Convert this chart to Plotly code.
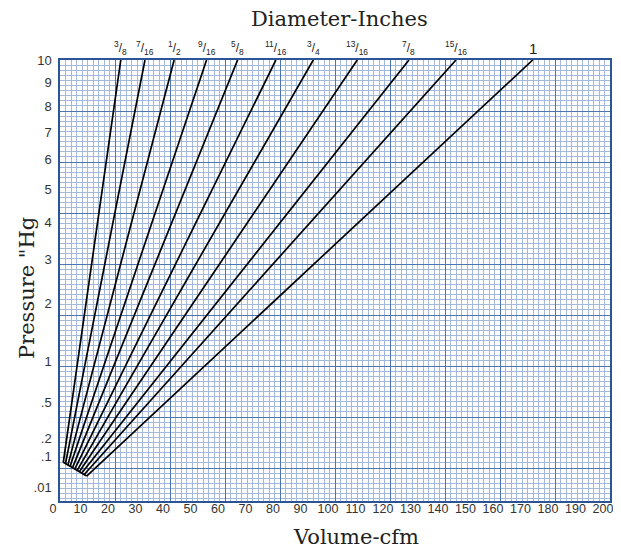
import numpy as np
import plotly.graph_objects as go

# ---- data ----
diameters = ["3/8", "7/16", "1/2", "9/16", "5/8", "11/16", "3/4", "13/16", "7/8", "15/16", "1"]
diameter_labels = ["<sup>3</sup>/<sub>8</sub>", "<sup>7</sup>/<sub>16</sub>", "<sup>1</sup>/<sub>2</sub>",
                   "<sup>9</sup>/<sub>16</sub>", "<sup>5</sup>/<sub>8</sub>", "<sup>11</sup>/<sub>16</sub>",
                   "<sup>3</sup>/<sub>4</sub>", "<sup>13</sup>/<sub>16</sub>", "<sup>7</sup>/<sub>8</sub>",
                   "<sup>15</sup>/<sub>16</sub>", "1"]
start_cfm = [1.2, 2.0, 2.9, 3.7, 4.6, 5.4, 6.3, 7.1, 8.0, 8.8, 9.7]
start_hg = [0.077, 0.072, 0.067, 0.063, 0.058, 0.053, 0.049, 0.045, 0.041, 0.036, 0.032]
end_cfm = [22.1, 30.9, 41.5, 53.3, 64.6, 78.5, 92.1, 108.1, 126.9, 144.0, 171.9]
end_hg = [10] * 11

x_ticks = list(range(0, 201, 10))
y_tick_values = [0.01, 0.1, 0.2, 0.5, 1, 2, 3, 4, 5, 6, 7, 8, 9, 10]
y_tick_text = [".01", ".1", ".2", ".5", "1", "2", "3", "4", "5", "6", "7", "8", "9", "10"]

X_MAX = 200
Y_MAX = 10

# square-root pressure scale
def s(v):
    return np.sqrt(np.asarray(v, dtype=float))

fig = go.Figure()

# dummy trace for the grid axes
fig.add_trace(go.Scatter(x=[0, X_MAX], y=[0, s(Y_MAX)], xaxis="x2", yaxis="y2",
                         mode="markers", marker=dict(opacity=0), showlegend=False,
                         hoverinfo="skip"))

for i, d in enumerate(diameters):
    fig.add_trace(go.Scatter(x=[start_cfm[i], end_cfm[i]], y=s([start_hg[i], end_hg[i]]),
                             mode="lines", line=dict(color="black", width=1.7),
                             name=d, showlegend=False))

# base line joining the start points
fig.add_trace(go.Scatter(x=start_cfm, y=s(start_hg), mode="lines",
                         line=dict(color="black", width=1.7), showlegend=False))

for i, d in enumerate(diameters):
    big = (d == "1")
    fig.add_annotation(x=end_cfm[i], y=float(s(end_hg[i])), xref="x", yref="y",
                       text=diameter_labels[i], showarrow=False, yanchor="bottom",
                       xanchor="center", yshift=1,
                       font=dict(family="Liberation Sans, Arial", size=15 if big else 12,
                                 color="#222"))

frame = "#2a5597"
sqrt_top = float(s(Y_MAX))
major_y = sqrt_top * 51.0 / 441.0  # graph-paper major spacing (pixels ratio)
tickfont = dict(family="Liberation Sans, Arial", size=12.5, color="#333")
fig.update_layout(
    template="none",
    width=613, height=542,
    margin=dict(l=52, r=11, t=52, b=49, autoexpand=False),
    paper_bgcolor="white", plot_bgcolor="white",
    showlegend=False,
    xaxis=dict(range=[0, X_MAX], tickmode="array", tickvals=x_ticks,
               ticktext=[str(t) for t in x_ticks], showgrid=False, zeroline=False,
               showline=True, mirror=True, linecolor=frame, linewidth=1.5,
               ticks="", ticklen=0, automargin=False, tickfont=tickfont,
               ticklabelstandoff=-5, ticklabelshift=-7),
    yaxis=dict(range=[0, sqrt_top], tickmode="array", tickvals=list(s(y_tick_values)),
               ticktext=y_tick_text, showgrid=False, zeroline=False,
               showline=True, mirror=True, linecolor=frame, linewidth=1.5,
               ticks="", ticklen=0, automargin=False,
               tickfont=dict(family="Liberation Sans, Arial", size=13, color="#333"),
               ticklabelstandoff=4),
    xaxis2=dict(range=[0, X_MAX], overlaying="x", showticklabels=False, ticks="",
                automargin=False, showline=False,
                tickmode="linear", tick0=0, dtick=20, showgrid=True,
                gridcolor="#4d75b0", gridwidth=1, zeroline=False,
                minor=dict(tickmode="linear", tick0=0, dtick=2, showgrid=True,
                           gridcolor="#a4b8da", gridwidth=1)),
    yaxis2=dict(range=[0, sqrt_top], overlaying="y", showticklabels=False, ticks="",
                automargin=False, showline=False,
                tickmode="linear", tick0=sqrt_top, dtick=major_y, showgrid=True,
                gridcolor="#4d75b0", gridwidth=1, zeroline=False,
                minor=dict(tickmode="linear", tick0=sqrt_top, dtick=major_y / 10,
                           showgrid=True, gridcolor="#a4b8da", gridwidth=1)),
)

title_font = dict(family="DejaVu Serif", size=21, color="#222")
fig.add_annotation(text="Diameter-Inches", xref="paper", yref="paper", x=0.509, y=1.092,
                   xanchor="center", yanchor="middle", showarrow=False, font=title_font)
fig.add_annotation(text="Volume-cfm", xref="paper", yref="paper", x=0.538, y=-0.082,
                   xanchor="center", yanchor="middle", showarrow=False, font=title_font)
fig.add_annotation(text="Pressure \"Hg", xref="paper", yref="paper", x=-0.06, y=0.483,
                   xanchor="center", yanchor="middle", textangle=-90, showarrow=False,
                   font=title_font)

fig.write_html("out.html")
